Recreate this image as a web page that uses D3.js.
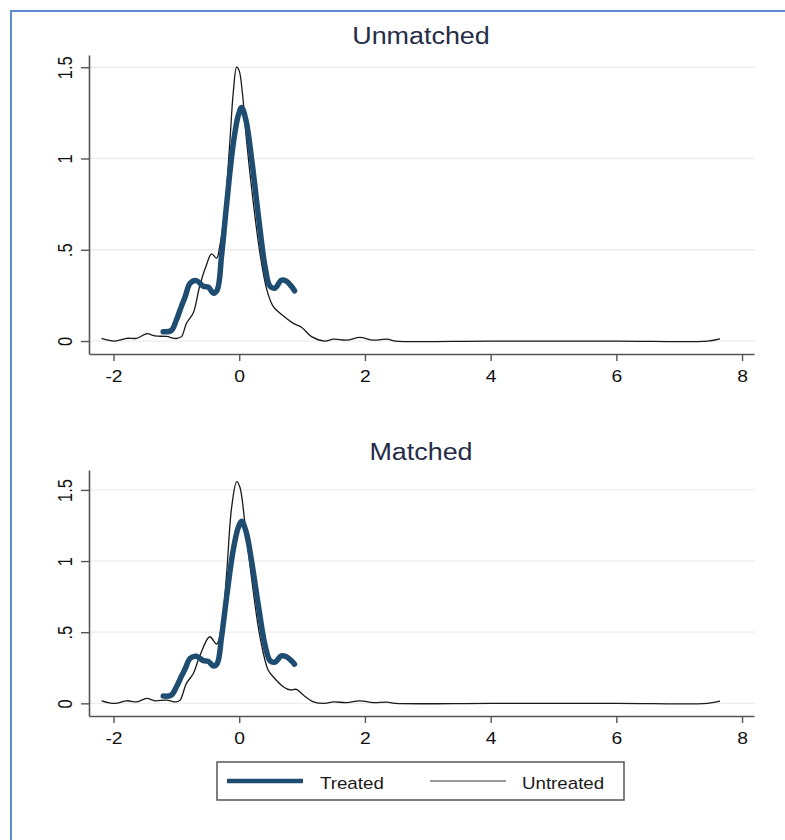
<!DOCTYPE html>
<html>
<head>
<meta charset="utf-8">
<script src="https://cdn.jsdelivr.net/npm/d3@7"></script>
<style>
  html, body { margin: 0; padding: 0; background: #fff; }
  svg { display: block; }
  text { font-family: "Liberation Sans", Arial, Helvetica, sans-serif; }
</style>
</head>
<body>
<svg id="chart" width="785" height="840"></svg>
<script>
// Kernel density estimates of the propensity score, [x, density]
const treatedDensity = [
  [-1.21, 0.051], [-1.08, 0.058], [-1.0, 0.115], [-0.92, 0.19], [-0.86, 0.243],
  [-0.78, 0.317], [-0.68, 0.331], [-0.57, 0.3], [-0.49, 0.295], [-0.41, 0.262],
  [-0.35, 0.28], [-0.28, 0.47], [-0.2, 0.75], [-0.095, 1.08], [-0.016, 1.235],
  [0.038, 1.28], [0.107, 1.21], [0.2, 0.99], [0.3, 0.7], [0.41, 0.41],
  [0.49, 0.3], [0.57, 0.29], [0.67, 0.333], [0.75, 0.328], [0.83, 0.3], [0.88, 0.275]
];

const untreatedUnmatched = [
  [-2.19, 0.015], [-1.98, 0.0], [-1.79, 0.015], [-1.63, 0.015], [-1.47, 0.04],
  [-1.34, 0.028], [-1.16, 0.025], [-1.0, 0.014], [-0.92, 0.024], [-0.84, 0.097],
  [-0.73, 0.155], [-0.63, 0.3], [-0.53, 0.408], [-0.44, 0.478], [-0.36, 0.454],
  [-0.31, 0.518], [-0.23, 0.72], [-0.15, 1.086], [-0.095, 1.36], [-0.04, 1.5],
  [0.0, 1.48], [0.05, 1.36], [0.12, 1.086], [0.22, 0.77], [0.33, 0.48],
  [0.44, 0.28], [0.54, 0.19], [0.7, 0.138], [0.86, 0.097], [0.99, 0.076],
  [1.15, 0.024], [1.36, 0.0], [1.5, 0.01], [1.71, 0.005], [1.92, 0.02],
  [2.13, 0.005], [2.35, 0.01], [2.48, 0.0], [4.0, 0.0], [6.0, 0.0],
  [7.45, 0.0], [7.65, 0.012]
];

const untreatedMatched = [
  [-2.19, 0.018], [-1.98, 0.0], [-1.79, 0.018], [-1.63, 0.011], [-1.47, 0.035],
  [-1.34, 0.018], [-1.16, 0.023], [-1.0, 0.01], [-0.94, 0.023], [-0.84, 0.14],
  [-0.73, 0.21], [-0.63, 0.33], [-0.47, 0.468], [-0.36, 0.417], [-0.28, 0.54],
  [-0.2, 0.914], [-0.12, 1.38], [-0.04, 1.558], [0.01, 1.52], [0.09, 1.27],
  [0.2, 0.867], [0.33, 0.468], [0.46, 0.234], [0.54, 0.187], [0.7, 0.117],
  [0.81, 0.094], [0.91, 0.098], [1.02, 0.058], [1.18, 0.011], [1.36, 0.0],
  [1.5, 0.01], [1.71, 0.005], [1.92, 0.018], [2.13, 0.005], [2.35, 0.008],
  [2.48, 0.0], [4.0, 0.0], [6.0, 0.0], [7.45, 0.0], [7.65, 0.015]
];

const xTicks = [-2, 0, 2, 4, 6, 8];
const yTicks = [0, 0.5, 1, 1.5];
const yTickLabels = ["0", ".5", "1", "1.5"];
const panelTitles = ["Unmatched", "Matched"];
const legendLabels = ["Treated", "Untreated"];

const treatedColor = "#1f4d72";
const untreatedColor = "#1a1a1a";
const titleColor = "#252c47";
const axisColor = "#555";
const gridColor = "#ececec";
const stretch = 1.17;   // text is set slightly wide

const svg = d3.select("#chart");

// outer frame
svg.append("rect")
  .attr("x", 11).attr("y", 11)
  .attr("width", 800).attr("height", 860)
  .attr("fill", "none")
  .attr("stroke", "#5a8bd3")
  .attr("stroke-width", 2);

const panels = [
  { title: panelTitles[0], titleY: 43.5, untreated: untreatedUnmatched,
    yDomain: [-0.071, 1.567], yRange: [354, 55], labelY: 382 },
  { title: panelTitles[1], titleY: 460, untreated: untreatedMatched,
    yDomain: [-0.089, 1.64], yRange: [716, 470], labelY: 744 }
];

const x = d3.scaleLinear().domain([-2.39, 8.19]).range([89, 754]);

panels.forEach(p => {
  const y = d3.scaleLinear().domain(p.yDomain).range(p.yRange);
  const g = svg.append("g");

  // title
  g.append("text")
    .attr("transform", `translate(${x.range()[0] + (x.range()[1] - x.range()[0]) / 2 - 0.5},${p.titleY}) scale(${stretch},1)`)
    .attr("text-anchor", "middle")
    .attr("font-size", 23)
    .attr("fill", titleColor)
    .text(p.title);

  // horizontal grid
  g.append("g").selectAll("line")
    .data(yTicks)
    .join("line")
    .attr("x1", x.range()[0] + 1).attr("x2", x.range()[1] + 1)
    .attr("y1", d => y(d)).attr("y2", d => y(d))
    .attr("stroke", gridColor)
    .attr("stroke-width", 1.3);

  // x axis
  const xAxis = g.append("g")
    .attr("transform", `translate(0,${p.yRange[0]})`)
    .call(d3.axisBottom(x).tickValues(xTicks).tickSize(7).tickSizeOuter(0)
      .tickFormat(d => d3.format("d")(d).replace("−", "-")));
  xAxis.select(".domain").attr("stroke", axisColor).attr("stroke-width", 1.6);
  xAxis.selectAll(".tick line").attr("stroke", axisColor).attr("stroke-width", 1.4);
  xAxis.selectAll(".tick text")
    .attr("y", null).attr("dy", null)
    .attr("transform", `translate(0,${p.labelY - p.yRange[0]}) scale(${stretch},1)`)
    .attr("font-size", 16.5)
    .attr("fill", "#111");
  xAxis.attr("font-family", null);

  // y axis
  const yAxis = g.append("g")
    .attr("transform", `translate(${x.range()[0]},0)`)
    .call(d3.axisLeft(y).tickValues(yTicks).tickSize(8).tickSizeOuter(0)
      .tickFormat((d, i) => yTickLabels[i]));
  yAxis.select(".domain").attr("stroke", axisColor).attr("stroke-width", 1.6);
  yAxis.selectAll(".tick line").attr("stroke", axisColor).attr("stroke-width", 1.4);
  yAxis.selectAll(".tick text")
    .attr("x", null).attr("dy", null)
    .attr("text-anchor", "middle")
    .attr("transform", `translate(${72 - x.range()[0]},0) scale(${stretch},1) rotate(-90)`)
    .attr("font-size", 16.5)
    .attr("fill", "#111");
  yAxis.attr("font-family", null);

  const line = d3.line()
    .x(d => x(d[0]))
    .y(d => y(d[1]))
    .curve(d3.curveCatmullRom.alpha(0.5));

  // untreated density (thin)
  g.append("path")
    .datum(p.untreated)
    .attr("d", line)
    .attr("fill", "none")
    .attr("stroke", untreatedColor)
    .attr("stroke-width", 1.3)
    .attr("stroke-linejoin", "round");

  // treated density (thick)
  g.append("path")
    .datum(treatedDensity)
    .attr("d", line)
    .attr("fill", "none")
    .attr("stroke", treatedColor)
    .attr("stroke-width", 5.5)
    .attr("stroke-linecap", "round")
    .attr("stroke-linejoin", "round");
});

// legend
const legend = svg.append("g");
legend.append("rect")
  .attr("x", 217).attr("y", 762)
  .attr("width", 407).attr("height", 38)
  .attr("fill", "#fff")
  .attr("stroke", "#555")
  .attr("stroke-width", 1.5);

const legendItems = [
  { label: legendLabels[0], x1: 227, x2: 303, tx: 320, color: treatedColor, w: 4.5 },
  { label: legendLabels[1], x1: 430, x2: 506, tx: 522, color: "#333", w: 1 }
];
legendItems.forEach(it => {
  legend.append("line")
    .attr("x1", it.x1).attr("x2", it.x2)
    .attr("y1", 781).attr("y2", 781)
    .attr("stroke", it.color)
    .attr("stroke-width", it.w);
  legend.append("text")
    .attr("transform", `translate(${it.tx},789) scale(${stretch},1)`)
    .attr("font-size", 16)
    .attr("fill", "#1a1a1a")
    .text(it.label);
});
</script>
</body>
</html>
